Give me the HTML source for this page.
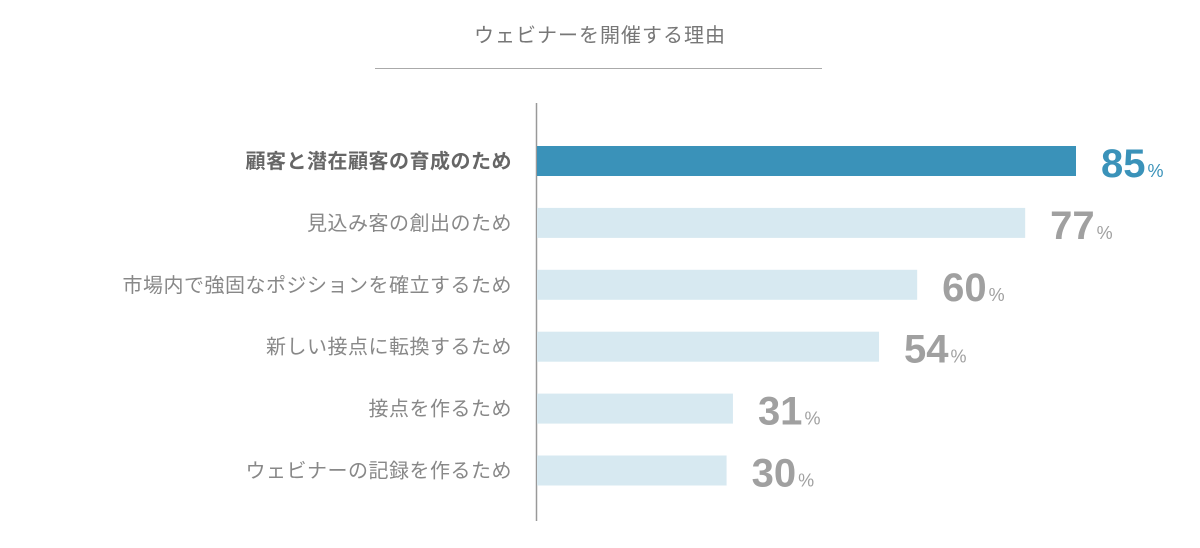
<!DOCTYPE html>
<html><head><meta charset="utf-8"><style>
body{margin:0;background:#fff;width:1200px;height:543px;overflow:hidden;font-family:"Liberation Sans","Noto Sans CJK JP",sans-serif;}
</style></head><body>
<svg id="chart" width="1200" height="543" xmlns="http://www.w3.org/2000/svg">
<text x="600" y="42" text-anchor="middle" font-size="20" fill="#777" letter-spacing="1" font-family="Liberation Sans, Noto Sans CJK JP, sans-serif">ウェビナーを開催する理由</text>
<line x1="375" y1="68.5" x2="822" y2="68.5" stroke="#aaa" stroke-width="1"/>
<line x1="536.5" y1="103" x2="536.5" y2="521" stroke="#999" stroke-width="1.5"/>
<g id="bars"></g>
</svg>
<script>
const categories=["顧客と潜在顧客の育成のため","見込み客の創出のため","市場内で強固なポジションを確立するため","新しい接点に転換するため","接点を作るため","ウェビナーの記録を作るため"];
const values=[85,77,60,54,31,30];
const ns="http://www.w3.org/2000/svg";
const g=document.getElementById("bars");
const x0=536, scale=540/85, y0=146, step=61.9, bh=30;
function xs(v){return x0+v*scale;}
function ys(i){return y0+i*step;}
categories.forEach((c,i)=>{
  const hl=i===0;
  const r=document.createElementNS(ns,"rect");
  
  
  r.setAttribute("x",x0+1);r.setAttribute("y",ys(i));
  r.setAttribute("width",xs(values[i])-x0-1);r.setAttribute("height",bh);
  r.setAttribute("fill",hl?"#3a92b9":"#d7e9f1");
  g.appendChild(r);
  const t=document.createElementNS(ns,"text");
  
  
  t.setAttribute("x",512);t.setAttribute("y",ys(i)+bh/2+7);
  t.setAttribute("text-anchor","end");t.setAttribute("font-size","20");
  t.setAttribute("fill",hl?"#666":"#888");
  if(hl)t.setAttribute("font-weight","bold");
  t.setAttribute("letter-spacing","0.5");
  t.textContent=c;g.appendChild(t);
  const v=document.createElementNS(ns,"text");
  
  
  v.setAttribute("x",xs(values[i])+25);v.setAttribute("y",ys(i)+bh+1);
  v.setAttribute("font-size","40");v.setAttribute("font-weight","bold");
  v.setAttribute("fill",hl?"#3a92b9":"#a0a0a0");
  v.textContent=values[i];
  const p=document.createElementNS(ns,"tspan");
  p.setAttribute("font-size","18");p.setAttribute("font-weight","normal");p.setAttribute("dx","2");
  p.textContent="%";v.appendChild(p);
  g.appendChild(v);
});
</script>
</body></html>
